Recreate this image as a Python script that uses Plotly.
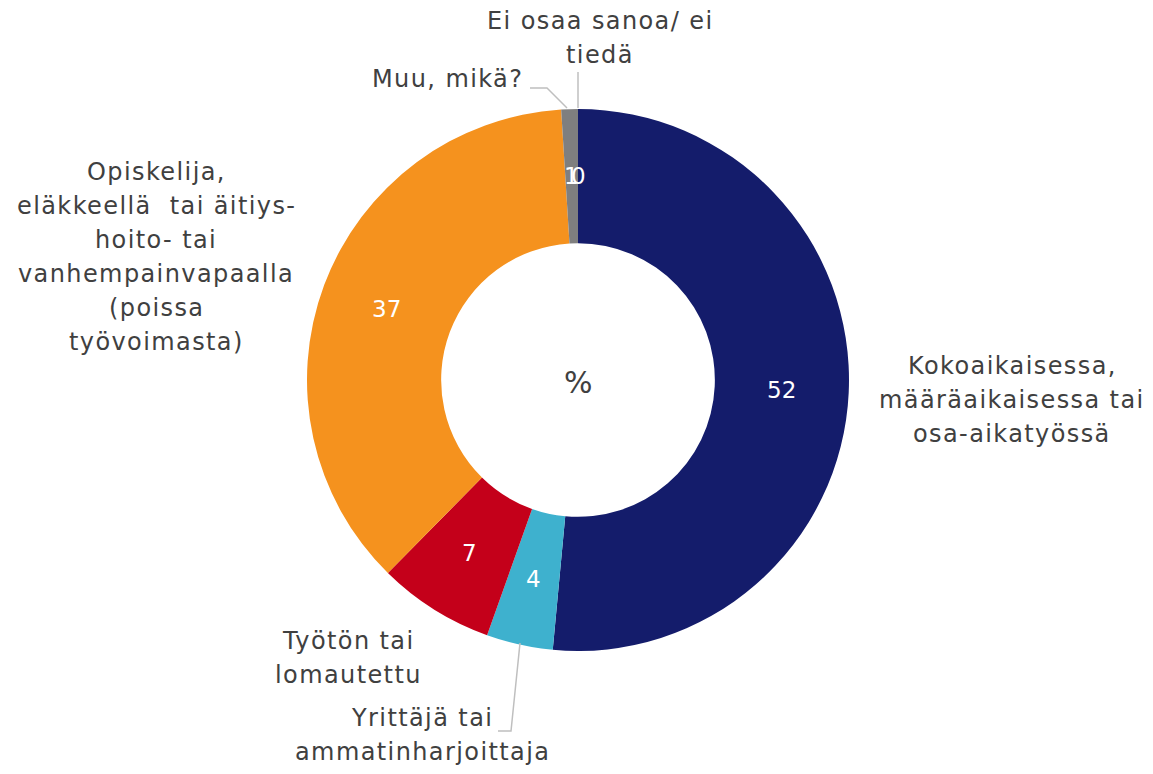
import math
import plotly.graph_objects as go

categories = ["Kokoaikaisessa, määräaikaisessa tai osa-aikatyössä",
              "Yrittäjä tai ammatinharjoittaja",
              "Työtön tai lomautettu",
              "Opiskelija, eläkkeellä tai äitiys- hoito- tai vanhempainvapaalla (poissa työvoimasta)",
              "Muu, mikä?",
              "Ei osaa sanoa/ ei tiedä"]
values = [52, 4, 7, 37, 1, 0]
colours = ["#141C6B", "#3EB1CE", "#C4001A", "#F5921E", "#7F7F7F", "#A5A5A5"]

# the page body keeps an 8px margin, so the figure is drawn 16px smaller
OFF = 8
W, H = 1153 - 2 * OFF, 774 - 2 * OFF
CX, CY, R = 578 - OFF, 380 - OFF, 271   # pie centre / radius in figure pixels
HOLE = 0.505
TEXT = "#404040"
FONT = "DejaVu Sans"
LINE_H = 34


def px(x, y):
    # reference-window pixels -> paper coordinates
    return (x - OFF) / W, 1 - (y - OFF) / H


fig = go.Figure(go.Pie(
    labels=categories,
    values=values,
    sort=False,
    direction="clockwise",
    rotation=0,
    hole=HOLE,
    marker=dict(colors=colours, line=dict(width=0)),
    textinfo="none",
    hoverinfo="label+value",
    showlegend=False,
    domain=dict(x=[(CX - R) / W, (CX + R) / W], y=[(H - CY - R) / H, (H - CY + R) / H]),
))

# value labels at the middle of the ring, placed from the data
total = sum(values)
r_mid = R * (1 + HOLE) / 2
cum = 0
for v in values:
    a = math.radians((cum + v / 2) / total * 360)
    cum += v
    fig.add_annotation(x=(CX + r_mid * math.sin(a)) / W, y=1 - (CY - r_mid * math.cos(a)) / H,
                       xref="paper", yref="paper", text=str(v), showarrow=False,
                       xanchor="center", yanchor="middle",
                       font=dict(family=FONT, size=23, color="white"))

# category labels outside the ring (reference pixel positions of block centres)
outer = [
    (["Kokoaikaisessa,", "määräaikaisessa tai", "osa-aikatyössä"], 1012, 400),
    (["Yrittäjä tai", "ammatinharjoittaja"], 422, 735),
    (["Työtön tai", "lomautettu"], 348, 658),
    (["Opiskelija,", "eläkkeellä  tai äitiys-", "hoito- tai", "vanhempainvapaalla",
      "(poissa", "työvoimasta)"], 156, 257),
    (["Muu, mikä?"], 447, 79),
    (["Ei osaa sanoa/ ei", "tiedä"], 600, 38),
]
for lines, x, y in outer:
    n = len(lines)
    for i, s in enumerate(lines):
        ax, ay = px(x, y + (i - (n - 1) / 2) * LINE_H)
        fig.add_annotation(x=ax, y=ay, xref="paper", yref="paper",
                           text=f'<span style="letter-spacing:1.4px">{s}</span>',
                           showarrow=False, xanchor="center", yanchor="middle",
                           font=dict(family=FONT, size=24, color=TEXT))

ax, ay = px(578, 383)
fig.add_annotation(x=ax, y=ay, xref="paper", yref="paper", text="%",
                   showarrow=False, xanchor="center", yanchor="middle",
                   font=dict(family=FONT, size=30, color=TEXT))

# leader lines
leaders = [
    [(530, 88), (547, 88), (567, 108)],
    [(578, 72), (578, 108)],
    [(498, 731), (511, 731), (520, 643)],
]
for pts in leaders:
    path = "M " + " L ".join("{} {}".format(*px(x, y)) for x, y in pts)
    fig.add_shape(type="path", path=path, xref="paper", yref="paper",
                  line=dict(color="#BFBFBF", width=1.5))

fig.update_layout(
    width=W, height=H,
    margin=dict(l=0, r=0, t=0, b=0),
    paper_bgcolor="white",
    plot_bgcolor="white",
)

fig.write_html("out.html")
